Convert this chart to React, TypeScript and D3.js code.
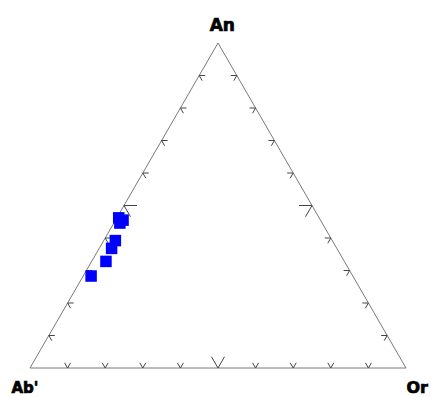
import React from "react";
import * as d3 from "d3";

// Ternary data (percent): An, Or; Ab' = 100 - An - Or
const anValues = [46.2, 45.5, 44.6, 39.2, 36.8, 32.8, 28.3];
const orValues = [0.5, 2.0, 1.6, 3.1, 3.3, 3.8, 2.1];
const tickFractions = [0.1, 0.2, 0.3, 0.4, 0.5, 0.6, 0.7, 0.8, 0.9];
const vertexLabels = ["An", "Ab'", "Or"];

const W = 431;
const H = 397;

export default function App() {
  const x = d3.scaleLinear().domain([0, 1]).range([30, 406]);
  const y = d3.scaleLinear().domain([0, 1]).range([368, 43]);
  const proj = (an: number, or: number): [number, number] => [x(or + an / 2), y(an)];

  const c60 = Math.cos(Math.PI / 3);
  const s60 = Math.sin(Math.PI / 3);

  const tri = d3.line()([proj(1, 0), proj(0, 0), proj(0, 1), proj(1, 0)]) + "Z";

  const ticks: string[] = [];
  tickFractions.forEach((t) => {
    const L = Math.abs(t - 0.5) < 1e-9 ? 13 : 6;
    const [bx, by] = proj(0, t);
    ticks.push(`M${bx - L * c60},${by - L * s60}L${bx},${by}L${bx + L * c60},${by - L * s60}`);
    const [lx, ly] = proj(t, 0);
    ticks.push(`M${lx + L},${ly}L${lx},${ly}L${lx + L * c60},${ly + L * s60}`);
    const [rx, ry] = proj(t, 1 - t);
    ticks.push(`M${rx - L},${ry}L${rx},${ry}L${rx - L * c60},${ry + L * s60}`);
  });

  const pts = anValues.map((a, i) => proj(a / 100, orValues[i] / 100));
  const sz = 11.5;

  return (
    <svg
      width={W}
      height={H}
      style={{ position: "absolute", left: 0, top: 0, display: "block", background: "#fff" }}
    >
      <path d={tri} fill="none" stroke="#7a7a7a" strokeWidth={1} />
      {ticks.map((d, i) => (
        <path key={i} d={d} fill="none" stroke="#444" strokeWidth={1} />
      ))}
      {pts.map(([px, py], i) => (
        <rect key={i} x={px - sz / 2} y={py - sz / 2} width={sz} height={sz} fill="#0000ff" />
      ))}
      <g fontFamily="DejaVu Sans" fontWeight="bold" fill="#000" stroke="#000" strokeWidth={0.7}>
        <text x={222.3} y={30.7} fontSize={17} textAnchor="middle">{vertexLabels[0]}</text>
        <text x={11.5} y={393.2} fontSize={15}>{vertexLabels[1]}</text>
        <text x={428} y={393} fontSize={16} textAnchor="end">{vertexLabels[2]}</text>
      </g>
    </svg>
  );
}
